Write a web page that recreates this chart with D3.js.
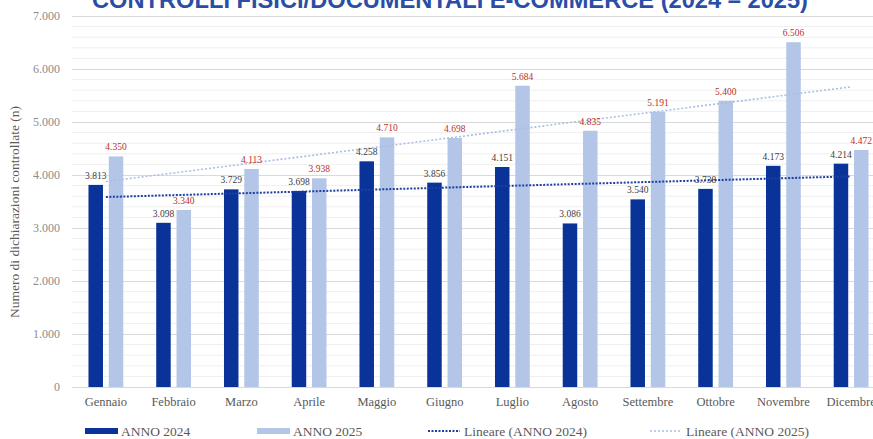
<!DOCTYPE html>
<html>
<head>
<meta charset="utf-8">
<script src="https://cdn.jsdelivr.net/npm/d3@7"></script>
<style>
  html, body { margin: 0; padding: 0; background: #ffffff; overflow: hidden; }
  svg { display: block; }
</style>
</head>
<body>
<div id="chart"></div>
<script>
const months = ["Gennaio","Febbraio","Marzo","Aprile","Maggio","Giugno","Luglio","Agosto","Settembre","Ottobre","Novembre","Dicembre"];
const anno2024 = [3813, 3098, 3729, 3698, 4258, 3856, 4151, 3086, 3540, 3738, 4173, 4214];
const anno2025 = [4350, 3340, 4113, 3938, 4710, 4698, 5684, 4835, 5191, 5400, 6506, 4472];
const yTicks = [0, 1000, 2000, 3000, 4000, 5000, 6000, 7000];
const seriesNames = ["ANNO 2024", "ANNO 2025", "Lineare (ANNO 2024)", "Lineare (ANNO 2025)"];
const titleText = "CONTROLLI FISICI/DOCUMENTALI E-COMMERCE (2024 – 2025)";
const yTitle = "Numero di dichiarazioni controllate (n)";

const W = 873, H = 439;
const C_DARK = "#0a3399", C_LIGHT = "#b4c6e7";
const C_TREND1 = "#1f3fa0", C_TREND2 = "#a9bde3";
const serif = "'Liberation Serif','DejaVu Serif',serif";

const it = d3.formatLocale({decimal: ",", thousands: ".", grouping: [3], currency: ["€", ""]});
const fmt = it.format(",d");

const svg = d3.select("#chart").append("svg").attr("width", W).attr("height", H);

const x = d3.scaleBand().domain(months).range([72, 885]).paddingInner(0).paddingOuter(0);
const y = d3.scaleLinear().domain([0, 7000]).range([387, 16]);

// title (cut at top, as in the reference)
svg.append("text")
  .attr("x", 92).attr("y", 8)
  .attr("textLength", 716).attr("lengthAdjust", "spacingAndGlyphs")
  .attr("font-family", "'Liberation Sans',Arial,sans-serif")
  .attr("font-weight", "bold").attr("font-size", 24)
  .attr("fill", "#2a4ea6")
  .text(titleText);

// minor gridlines
const minor = d3.range(200, 7000, 200).filter(v => v % 1000 !== 0);
svg.append("g").selectAll("line").data(minor).join("line")
  .attr("x1", 72).attr("x2", W)
  .attr("y1", d => y(d)).attr("y2", d => y(d))
  .attr("stroke", "#efefef").attr("stroke-width", 1);

// y axis with major gridlines
const yAxis = d3.axisLeft(y).tickValues(yTicks).tickSize(-(W - 72)).tickFormat(d => fmt(d)).tickPadding(12);
const gy = svg.append("g").attr("transform", "translate(72,0)").call(yAxis);
gy.select(".domain").remove();
gy.selectAll(".tick line").attr("stroke", "#d9d9d9");
gy.selectAll(".tick text")
  .attr("font-family", serif).attr("font-size", 12).attr("fill", "#8c8c8c");

// y title
svg.append("text")
  .attr("transform", "translate(19,212) rotate(-90)")
  .attr("text-anchor", "middle")
  .attr("font-family", serif).attr("font-size", 13.5).attr("fill", "#595959")
  .text(yTitle);

// bars
const bw = 14.5, gap = 2.9;
const center = m => x(m) + x.bandwidth() / 2;
const g = svg.append("g");
g.selectAll("rect.b24").data(months).join("rect").attr("class", "b24")
  .attr("x", (m) => center(m) - gap - bw)
  .attr("width", bw)
  .attr("y", (m, i) => y(anno2024[i]))
  .attr("height", (m, i) => y(0) - y(anno2024[i]))
  .attr("fill", C_DARK);
g.selectAll("rect.b25").data(months).join("rect").attr("class", "b25")
  .attr("x", (m) => center(m) + gap)
  .attr("width", bw)
  .attr("y", (m, i) => y(anno2025[i]))
  .attr("height", (m, i) => y(0) - y(anno2025[i]))
  .attr("fill", C_LIGHT);

// x labels
svg.append("g").selectAll("text").data(months).join("text")
  .attr("x", m => center(m)).attr("y", 406)
  .attr("text-anchor", "middle")
  .attr("font-family", serif).attr("font-size", 12.5).attr("fill", "#595959")
  .text(m => m);

// trend lines (linear regression)
function regress(vals) {
  const n = vals.length, xs = d3.range(1, n + 1);
  const mx = d3.mean(xs), my = d3.mean(vals);
  let sxy = 0, sxx = 0;
  xs.forEach((xv, i) => { sxy += (xv - mx) * (vals[i] - my); sxx += (xv - mx) * (xv - mx); });
  const b = sxy / sxx, a = my - b * mx;
  return xs.map(xv => a + b * xv);
}
const line = d3.line().x((d, i) => center(months[i])).y(d => y(d));
svg.append("path").datum(regress(anno2025)).attr("d", line)
  .attr("fill", "none").attr("stroke", C_TREND2).attr("stroke-width", 1.6).attr("stroke-dasharray", "2,2");
svg.append("path").datum(regress(anno2024)).attr("d", line)
  .attr("fill", "none").attr("stroke", C_TREND1).attr("stroke-width", 2).attr("stroke-dasharray", "2,1.5");

// data labels
svg.append("g").selectAll("text").data(months).join("text")
  .attr("x", m => center(m) - gap - bw / 2)
  .attr("y", (m, i) => y(anno2024[i]) - 6)
  .attr("text-anchor", "middle")
  .attr("font-family", serif).attr("font-size", 9.5).attr("fill", "#404040")
  .text((m, i) => fmt(anno2024[i]));
svg.append("g").selectAll("text").data(months).join("text")
  .attr("x", m => center(m) + gap + bw / 2)
  .attr("y", (m, i) => y(anno2025[i]) - 6)
  .attr("text-anchor", "middle")
  .attr("font-family", serif).attr("font-size", 9.5).attr("fill", "#b8322a")
  .text((m, i) => fmt(anno2025[i]));

// legend
const leg = svg.append("g").attr("font-family", serif).attr("font-size", 13.5).attr("fill", "#595959");
const legendItems = [
  {name: seriesNames[0], x: 85, type: "rect", color: C_DARK},
  {name: seriesNames[1], x: 257, type: "rect", color: C_LIGHT},
  {name: seriesNames[2], x: 428, type: "line", color: C_TREND1, w: 2, dash: "2,1.5"},
  {name: seriesNames[3], x: 650, type: "line", color: C_TREND2, w: 1.4, dash: "2,2"}
];
legendItems.forEach(it => {
  if (it.type === "rect") {
    leg.append("rect").attr("x", it.x).attr("y", 428).attr("width", 33).attr("height", 6).attr("fill", it.color);
  } else {
    leg.append("line").attr("x1", it.x).attr("x2", it.x + 32).attr("y1", 431).attr("y2", 431)
      .attr("stroke", it.color).attr("stroke-width", it.w).attr("stroke-dasharray", it.dash);
  }
  leg.append("text").attr("x", it.x + 36).attr("y", 436).text(it.name);
});
</script>
</body>
</html>
